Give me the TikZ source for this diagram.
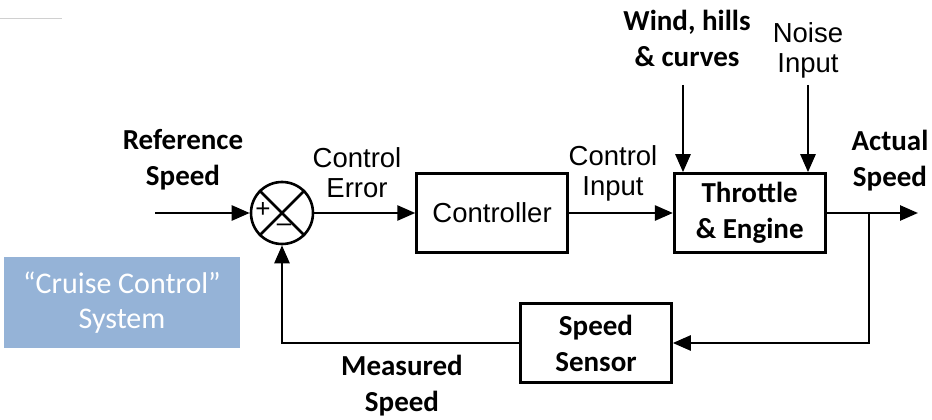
\documentclass[tikz,border=0pt]{standalone}
\usepackage{fontspec}
\usepackage{tikz}
\usetikzlibrary{
  arrows.meta,
  positioning,
  calc
}
\newfontfamily\calfont{Carlito}
\newfontfamily\arialfont{Liberation Sans}
\definecolor{ccBox}{HTML}{95B3D7}
\definecolor{ccRule}{HTML}{D0D0D0}
\tikzset{
  blk/.style={
    draw, line width=2.6pt, minimum width=151pt, minimum height=79pt,
    align=center, inner sep=0pt
  },
  sumnode/.style={draw, circle, line width=2.6pt, minimum size=62pt, inner sep=0pt},
  sig/.style={-{Triangle[length=18pt, width=15pt]}, line width=2.6pt},
  wire/.style={line width=2.6pt},
  boldlbl/.style={font=\calfont\bfseries\fontsize{29}{36}\selectfont, align=center},
  plainlbl/.style={font=\arialfont\fontsize{27.5}{30}\selectfont, align=center},
  signlbl/.style={font=\arialfont\fontsize{26}{26}\selectfont, inner sep=0pt},
  infobox/.style={
    fill=ccBox, text=white, minimum width=236pt, minimum height=91pt,
    font=\calfont\fontsize{30}{35}\selectfont, align=center
  }
}
\begin{document}
\begin{tikzpicture}[x=1pt, y=-1pt, node distance=101pt]
  \useasboundingbox (0,0) rectangle (932,420);
  \draw[ccRule, line width=1pt] (0,19) -- (62,19);

  % loop blocks
  \node[sumnode] (sum) at (282,213) {};
  \draw[wire] (sum.north west) -- (sum.south east);
  \draw[wire] (sum.north east) -- (sum.south west);
  \node[signlbl] (plus) at (263,210) {+};
  \node[signlbl] (minus) at (284,228) {–};
  \node[blk, right=101pt of sum, plainlbl] (ctrl) {Controller};
  \node[blk, right=104pt of ctrl, boldlbl] (plant) {Throttle\\\& Engine};
  \node[blk, boldlbl] (sensor) at (596,343) {Speed\\Sensor};

  % free ends
  \coordinate (ref) at (155,213);
  \coordinate (out) at (918,213);
  \coordinate (br) at (869,213);
  \coordinate (windtop) at (683,85);
  \coordinate (noisetop) at (808,85);

  % signals
  \draw[sig] (ref) -- (sum.west);
  \draw[sig] (sum.east) -- (ctrl.west);
  \draw[sig] (ctrl.east) -- (plant.west);
  \draw[sig] (plant.east) -- (out);
  \draw[sig] (br) |- (sensor.east);
  \draw[sig] (sensor.west) -| (sum.south);
  \draw[sig] (windtop) -- (windtop |- plant.north);
  \draw[sig] (noisetop) -- (noisetop |- plant.north);

  % labels
  \node[boldlbl] (reflbl) at (183,160) {Reference\\Speed};
  \node[plainlbl] (errlbl) at (357,173) {Control\\Error};
  \node[plainlbl] (uinlbl) at (613,173) {Control\\Input};
  \node[boldlbl] (windlbl) at (687,38) {Wind, hills\\\& curves};
  \node[plainlbl] (noiselbl) at (808,50) {Noise\\Input};
  \node[boldlbl] (actlbl) at (890,161) {Actual\\Speed};
  \node[boldlbl] (measlbl) at (402,386) {Measured\\Speed};

  \node[infobox] (cruise) at (122,302.5) {“Cruise Control”\\System};
\end{tikzpicture}
\end{document}
